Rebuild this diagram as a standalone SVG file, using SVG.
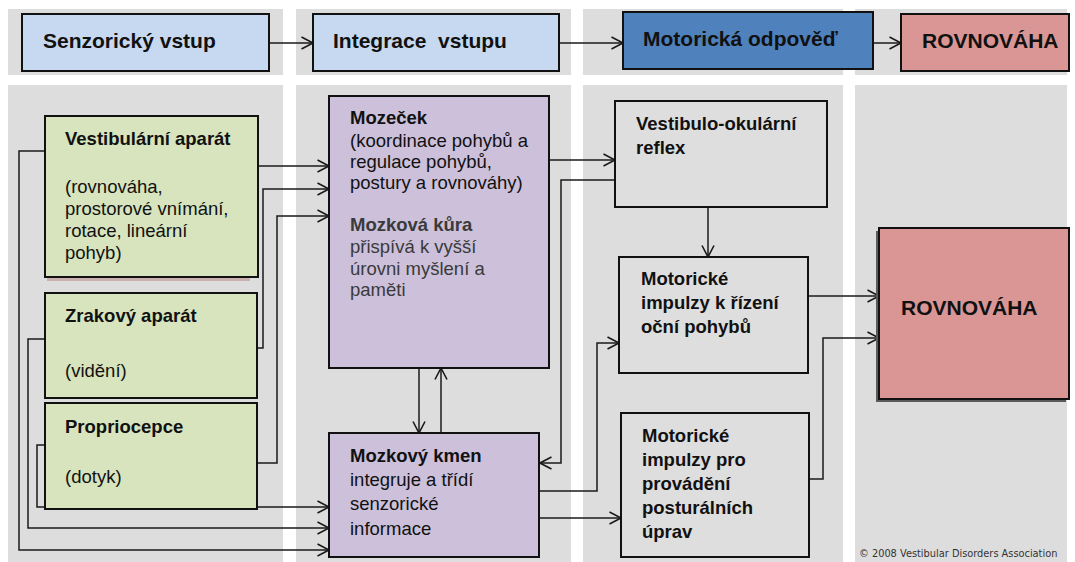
<svg xmlns="http://www.w3.org/2000/svg" width="1075" height="562" viewBox="0 0 1075 562">
<defs>
<marker id="arr" markerUnits="userSpaceOnUse" markerWidth="14" markerHeight="14" viewBox="0 0 14 14" refX="12.5" refY="7" orient="auto">
<path d="M1,1 L12.5,7 L1,13" fill="none" stroke="#1a1a1a" stroke-width="1.6"/>
</marker>
</defs>
<style>
.col{fill:#dddddd}
.box{stroke:#111;stroke-width:2}
.blue{fill:#c6d9f0}
.dblue{fill:#4f81bd}
.pink{fill:#d99694}
.green{fill:#d7e4bd}
.purple{fill:#ccc0da}
.grey{fill:#dedede}
.t{font-family:"Liberation Sans",Arial,sans-serif;fill:#111}
.h{font-size:21px;font-weight:bold}
.b{font-size:18.5px;font-weight:bold}
.r{font-size:18.5px}
.dk{fill:#3a3a3a}
.c{fill:none;stroke:#1a1a1a;stroke-width:1.5;marker-end:url(#arr)}
</style>
<rect width="1075" height="562" fill="#ffffff"/>
<g id="columns">
<rect class="col" x="8" y="9" width="275" height="66"/>
<rect class="col" x="296" y="9" width="275" height="66"/>
<rect class="col" x="583" y="9" width="260" height="66"/>
<rect class="col" x="855" y="9" width="212" height="66"/>
<rect class="col" x="8" y="85" width="275" height="477"/>
<rect class="col" x="296" y="85" width="275" height="477"/>
<rect class="col" x="583" y="85" width="260" height="477"/>
<rect class="col" x="855" y="85" width="212" height="477"/>
</g>
<g id="connectors">
<path class="c" d="M269,43 H313"/>
<path class="c" d="M559,43 H623"/>
<path class="c" d="M873,43 H901"/>
<path class="c" d="M45,151 H19 V550 H329"/>
<path class="c" d="M45,339 H28 V528 H329"/>
<path class="c" d="M45,445 H37 V507 H329"/>
<path class="c" d="M258,166 H329"/>
<path class="c" d="M257,348 H263 V189 H329"/>
<path class="c" d="M257,463 H277 V216 H329"/>
<path class="c" d="M549,160 H615"/>
<path class="c" d="M615,180 H561 V463 H540"/>
<path class="c" d="M419,368 V433"/>
<path class="c" d="M441,433 V368"/>
<path class="c" d="M539,491 H597 V343 H619"/>
<path class="c" d="M539,518 H621"/>
<path class="c" d="M708,207 V257"/>
<path class="c" d="M808,296 H879"/>
<path class="c" d="M809,479 H823 V338 H879"/>
</g>
<g id="senzoricky-vstup">
<rect class="box blue" x="22" y="14" width="247" height="57"/>
<text class="t h" x="43" y="48">Senzorický vstup</text>
</g>
<g id="integrace-vstupu">
<rect class="box blue" x="313" y="14" width="246" height="57"/>
<text class="t h" x="333" y="48" xml:space="preserve">Integrace  vstupu</text>
</g>
<g id="motoricka-odpoved">
<rect class="box dblue" x="623" y="12" width="250" height="57"/>
<text class="t h" x="643" y="46">Motorická odpověď</text>
</g>
<g id="rovnovaha-top">
<rect class="box pink" x="901" y="14" width="168" height="57"/>
<text class="t h" x="922" y="48">ROVNOVÁHA</text>
</g>
<g id="vestibularni-aparat">
<rect x="47" y="277" width="203" height="4" fill="#cbb0b0"/>
<rect class="box green" x="45" y="116" width="213" height="161"/>
<text class="t b" x="65" y="145">Vestibulární aparát</text>
<text class="t r" x="65" y="193">(rovnováha,</text>
<text class="t r" x="65" y="215">prostorové vnímání,</text>
<text class="t r" x="65" y="237">rotace, lineární</text>
<text class="t r" x="65" y="259">pohyb)</text>
</g>
<g id="zrakovy-aparat">
<rect class="box green" x="45" y="293" width="212" height="105"/>
<text class="t b" x="65" y="322">Zrakový aparát</text>
<text class="t r" x="65" y="377">(vidění)</text>
</g>
<g id="propriocepce">
<rect class="box green" x="45" y="403" width="212" height="106"/>
<text class="t b" x="65" y="433">Propriocepce</text>
<text class="t r" x="65" y="483">(dotyk)</text>
</g>
<g id="mozecek">
<rect class="box purple" x="329" y="96" width="220" height="272"/>
<text class="t b" x="350" y="124">Mozeček</text>
<text class="t r" x="350" y="147">(koordinace pohybů a</text>
<text class="t r" x="350" y="168">regulace pohybů,</text>
<text class="t r" x="350" y="189">postury a rovnováhy)</text>
<text class="t b dk" x="350" y="231">Mozková kůra</text>
<text class="t r dk" x="350" y="253">přispívá k vyšší</text>
<text class="t r dk" x="350" y="275">úrovni myšlení a</text>
<text class="t r dk" x="350" y="296">paměti</text>
</g>
<g id="mozkovy-kmen">
<rect class="box purple" x="329" y="433" width="210" height="124"/>
<text class="t b" x="350" y="462">Mozkový kmen</text>
<text class="t r" x="350" y="486">integruje a třídí</text>
<text class="t r" x="350" y="510">senzorické</text>
<text class="t r" x="350" y="535">informace</text>
</g>
<g id="vestibulo-okularni-reflex">
<rect class="box grey" x="615" y="101" width="212" height="106"/>
<text class="t b" x="636" y="130">Vestibulo-okulární</text>
<text class="t b" x="636" y="154">reflex</text>
</g>
<g id="motoricke-impulzy-oci">
<rect class="box grey" x="619" y="257" width="189" height="116"/>
<text class="t b" x="641" y="285">Motorické</text>
<text class="t b" x="641" y="309">impulzy k řízení</text>
<text class="t b" x="641" y="333">oční pohybů</text>
</g>
<g id="motoricke-impulzy-postura">
<rect class="box grey" x="621" y="413" width="188" height="144"/>
<text class="t b" x="642" y="442">Motorické</text>
<text class="t b" x="642" y="466">impulzy pro</text>
<text class="t b" x="642" y="490">provádění</text>
<text class="t b" x="642" y="514">posturálních</text>
<text class="t b" x="642" y="538">úprav</text>
</g>
<g id="rovnovaha">
<rect x="876" y="231" width="190" height="171" fill="#5a5a5a"/>
<rect class="box pink" x="879" y="228" width="190" height="171"/>
<text class="t h" x="901" y="315">ROVNOVÁHA</text>
</g>
<text x="859" y="557" font-family="DejaVu Sans, sans-serif" font-size="9.8" fill="#333">© 2008 Vestibular Disorders Association</text>
</svg>
